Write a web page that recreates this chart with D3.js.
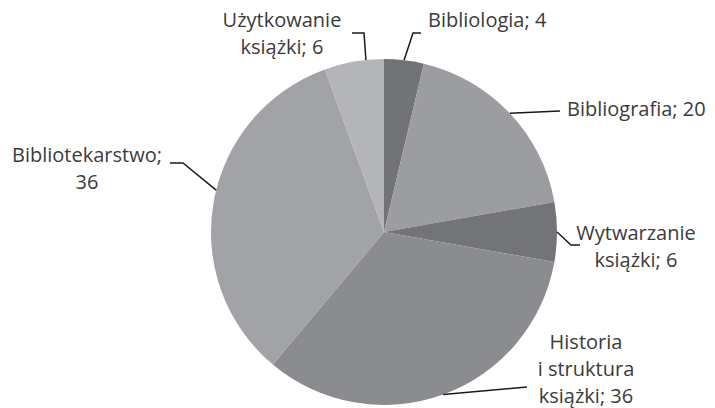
<!DOCTYPE html>
<html>
<head>
<meta charset="utf-8">
<script src="https://cdn.jsdelivr.net/npm/d3@7"></script>
<style>
  body { margin: 0; background: #fff; }
  text { font-family: "Open Sans", sans-serif; fill: #3b3b3b; }
</style>
</head>
<body>
<div id="chart"></div>
<script>
var w = 715, h = 408;

// data
var categories = ["Bibliologia", "Bibliografia", "Wytwarzanie książki", "Historia i struktura książki", "Bibliotekarstwo", "Użytkowanie książki"];
var values = [4, 20, 6, 36, 36, 6];
var colors = ["#727377", "#9c9da1", "#737478", "#8b8c90", "#a2a3a7", "#b4b5b9"];
var labelLines = [
    ["Bibliologia; 4"],
    ["Bibliografia; 20"],
    ["Wytwarzanie", "książki; 6"],
    ["Historia", "i struktura", "książki; 36"],
    ["Bibliotekarstwo;", "36"],
    ["Użytkowanie", "książki; 6"]
];

// label layout: text anchor point, leader elbow points, angle nudge (deg)
var labelLayout = [
    {x: 428, y: 20, anchor: "start", pts: [[413, 33], [421, 33]], da: 0},
    {x: 567, y: 109, anchor: "start", pts: [[560, 111]], da: 0},
    {x: 636, y: 233, anchor: "middle", pts: [[571, 245], [580, 245]], da: 0},
    {x: 586, y: 342, anchor: "middle", pts: [[527, 387]], da: 0},
    {x: 87, y: 155, anchor: "middle", pts: [[183, 163], [170, 163]], da: 4},
    {x: 282, y: 20, anchor: "middle", pts: [[364, 33], [352, 33]], da: 4}
];

var cx = 384, cy = 232, r = 173;
var lineH = 27;

var svg = d3.select("#chart")
    .append("svg")
    .attr("width", w)
    .attr("height", h);

var pie = d3.pie().sort(null).value(function(d) { return d; });
var arcs = pie(values);
var arc = d3.arc().innerRadius(0).outerRadius(r);

var g = svg.append("g")
    .attr("transform", "translate(" + cx + "," + cy + ")");

g.selectAll(".slice")
    .data(arcs)
    .enter()
    .append("path")
    .attr("class", "slice")
    .attr("d", arc)
    .attr("fill", function(d, i) { return colors[i]; });

// leader lines
svg.selectAll(".leader")
    .data(arcs)
    .enter()
    .append("polyline")
    .attr("class", "leader")
    .attr("points", function(d, i) {
        var a = (d.startAngle + d.endAngle) / 2 + labelLayout[i].da * Math.PI / 180;
        var p0 = [cx + r * Math.sin(a), cy - r * Math.cos(a)];
        return [p0].concat(labelLayout[i].pts).map(function(p) { return p.join(","); }).join(" ");
    })
    .attr("fill", "none")
    .attr("stroke", "#1a1a1a")
    .attr("stroke-width", 1.5);

// labels
var lab = svg.selectAll(".label")
    .data(labelLines)
    .enter()
    .append("text")
    .attr("class", "label")
    .attr("text-anchor", function(d, i) { return labelLayout[i].anchor; })
    .style("font-size", "20px");

lab.each(function(d, i) {
    var t = d3.select(this);
    d.forEach(function(s, j) {
        t.append("tspan")
            .attr("x", labelLayout[i].x)
            .attr("y", labelLayout[i].y + j * lineH)
            .attr("dy", "0.35em")
            .text(s);
    });
});
</script>
</body>
</html>
